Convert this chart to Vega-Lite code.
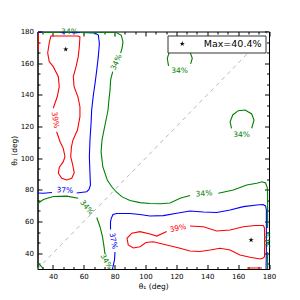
{
  "$schema": "https://vega.github.io/schema/vega-lite/v6.json",
  "width": 231.5,
  "height": 237.5,
  "autosize": {"type": "none"},
  "padding": {"left": 37.5, "top": 31.5, "right": 31, "bottom": 31},
  "config": {
    "view": {"stroke": "black", "strokeWidth": 1},
    "font": "DejaVu Sans",
    "axis": {"grid": false, "labelFont": "DejaVu Sans", "titleFont": "DejaVu Sans", "labelColor": "black", "titleColor": "black", "tickColor": "black", "domainColor": "black", "titleFontWeight": "normal", "labelFlush": false, "labelOverlap": false}
  },
  "datasets": {
    "diag": [{"t1": 30, "t2": 30}, {"t1": 180, "t2": 180}],
    "stars": [{"t1": 48.3, "t2": 168.8, "name": "Max=40.4%"}, {"t1": 168.4, "t2": 48.3, "name": "Max=40.4%"}],
    "labels": [
      {"text": "39%", "level": "39%", "t1": 41.3, "t2": 124.1, "angle": 82},
      {"text": "34%", "level": "34%", "t1": 81.3, "t2": 160.5, "angle": -66},
      {"text": "34%", "level": "34%", "t1": 50.7, "t2": 179.4, "angle": 0},
      {"text": "37%", "level": "37%", "t1": 47.8, "t2": 79.5, "angle": 2},
      {"text": "34%", "level": "34%", "t1": 61.8, "t2": 68.8, "angle": 50},
      {"text": "37%", "level": "37%", "t1": 78.9, "t2": 47.7, "angle": 79},
      {"text": "34%", "level": "34%", "t1": 74.4, "t2": 34.6, "angle": 60},
      {"text": "34%", "level": "34%", "t1": 137.9, "t2": 77.4, "angle": -4},
      {"text": "39%", "level": "39%", "t1": 121.1, "t2": 55.6, "angle": -13},
      {"text": "34%", "level": "34%", "t1": 122, "t2": 154.8, "angle": 0},
      {"text": "34%", "level": "34%", "t1": 162.2, "t2": 114.6, "angle": 0},
      {"text": "34%", "level": "34%", "t1": 179.1, "t2": 48.3, "angle": -90}
    ],
    "lines": [
      {"path": "r1", "level": "39%", "i": 1, "t1": 42.4, "t2": 116.7},
      {"path": "r1", "level": "39%", "i": 2, "t1": 44.6, "t2": 110.4},
      {"path": "r1", "level": "39%", "i": 3, "t1": 46.7, "t2": 106.2},
      {"path": "r1", "level": "39%", "i": 4, "t1": 47.8, "t2": 100.9},
      {"path": "r1", "level": "39%", "i": 5, "t1": 46.7, "t2": 97.8},
      {"path": "r1", "level": "39%", "i": 6, "t1": 44.1, "t2": 94.2},
      {"path": "r1", "level": "39%", "i": 7, "t1": 43.5, "t2": 90.5},
      {"path": "r1", "level": "39%", "i": 8, "t1": 45.7, "t2": 87.3},
      {"path": "r1", "level": "39%", "i": 9, "t1": 48.9, "t2": 86.2},
      {"path": "r1", "level": "39%", "i": 10, "t1": 52.2, "t2": 87.3},
      {"path": "r1", "level": "39%", "i": 11, "t1": 53.8, "t2": 90.8},
      {"path": "r1", "level": "39%", "i": 12, "t1": 52.8, "t2": 95.7},
      {"path": "r1", "level": "39%", "i": 13, "t1": 51.5, "t2": 100.9},
      {"path": "r1", "level": "39%", "i": 14, "t1": 52, "t2": 107.1},
      {"path": "r1", "level": "39%", "i": 15, "t1": 53, "t2": 111.5},
      {"path": "r1", "level": "39%", "i": 16, "t1": 55.9, "t2": 117.8},
      {"path": "r1", "level": "39%", "i": 17, "t1": 57.5, "t2": 126.2},
      {"path": "r1", "level": "39%", "i": 18, "t1": 57.5, "t2": 132.5},
      {"path": "r1", "level": "39%", "i": 19, "t1": 56.2, "t2": 138.7},
      {"path": "r1", "level": "39%", "i": 20, "t1": 53.7, "t2": 145.2},
      {"path": "r1", "level": "39%", "i": 21, "t1": 53.2, "t2": 151.5},
      {"path": "r1", "level": "39%", "i": 22, "t1": 55, "t2": 157.8},
      {"path": "r1", "level": "39%", "i": 23, "t1": 56.4, "t2": 164.1},
      {"path": "r1", "level": "39%", "i": 24, "t1": 57.1, "t2": 170.4},
      {"path": "r1", "level": "39%", "i": 25, "t1": 57.5, "t2": 176.6},
      {"path": "r1", "level": "39%", "i": 26, "t1": 56.2, "t2": 177.2},
      {"path": "r1", "level": "39%", "i": 27, "t1": 47.8, "t2": 177.2},
      {"path": "r1", "level": "39%", "i": 28, "t1": 38.7, "t2": 177.2},
      {"path": "r1", "level": "39%", "i": 29, "t1": 37.6, "t2": 172.8},
      {"path": "r1", "level": "39%", "i": 30, "t1": 36.6, "t2": 166.5},
      {"path": "r1", "level": "39%", "i": 31, "t1": 37.6, "t2": 161},
      {"path": "r1", "level": "39%", "i": 32, "t1": 40.2, "t2": 157.8},
      {"path": "r1", "level": "39%", "i": 33, "t1": 43.5, "t2": 151.5},
      {"path": "r1", "level": "39%", "i": 34, "t1": 44.1, "t2": 145.2},
      {"path": "r1", "level": "39%", "i": 35, "t1": 42.8, "t2": 138.8},
      {"path": "r1", "level": "39%", "i": 36, "t1": 41.3, "t2": 134.7},
      {"path": "r1", "level": "39%", "i": 37, "t1": 40.2, "t2": 131.5},

      {"path": "r2", "level": "39%", "i": 1, "t1": 128.8, "t2": 57.2},
      {"path": "r2", "level": "39%", "i": 2, "t1": 137.5, "t2": 56.7},
      {"path": "r2", "level": "39%", "i": 3, "t1": 146.1, "t2": 54},
      {"path": "r2", "level": "39%", "i": 4, "t1": 154.8, "t2": 54.6},
      {"path": "r2", "level": "39%", "i": 5, "t1": 163.4, "t2": 56.7},
      {"path": "r2", "level": "39%", "i": 6, "t1": 171, "t2": 57.5},
      {"path": "r2", "level": "39%", "i": 7, "t1": 176.3, "t2": 57.5},
      {"path": "r2", "level": "39%", "i": 8, "t1": 177.1, "t2": 55.9},
      {"path": "r2", "level": "39%", "i": 9, "t1": 177.1, "t2": 45.2},
      {"path": "r2", "level": "39%", "i": 10, "t1": 177.1, "t2": 37.8},
      {"path": "r2", "level": "39%", "i": 11, "t1": 176, "t2": 36.8},
      {"path": "r2", "level": "39%", "i": 12, "t1": 174.2, "t2": 36.3},
      {"path": "r2", "level": "39%", "i": 13, "t1": 167.7, "t2": 37.4},
      {"path": "r2", "level": "39%", "i": 14, "t1": 161.2, "t2": 38.8},
      {"path": "r2", "level": "39%", "i": 15, "t1": 154.8, "t2": 42},
      {"path": "r2", "level": "39%", "i": 16, "t1": 148.3, "t2": 43.1},
      {"path": "r2", "level": "39%", "i": 17, "t1": 141.8, "t2": 42},
      {"path": "r2", "level": "39%", "i": 18, "t1": 135.3, "t2": 41.1},
      {"path": "r2", "level": "39%", "i": 19, "t1": 128.8, "t2": 41.4},
      {"path": "r2", "level": "39%", "i": 20, "t1": 122.4, "t2": 43.1},
      {"path": "r2", "level": "39%", "i": 21, "t1": 113.7, "t2": 45.2},
      {"path": "r2", "level": "39%", "i": 22, "t1": 105, "t2": 47.2},
      {"path": "r2", "level": "39%", "i": 23, "t1": 100.3, "t2": 46.7},
      {"path": "r2", "level": "39%", "i": 24, "t1": 96.4, "t2": 44.1},
      {"path": "r2", "level": "39%", "i": 25, "t1": 92.1, "t2": 43.3},
      {"path": "r2", "level": "39%", "i": 26, "t1": 88.8, "t2": 45.2},
      {"path": "r2", "level": "39%", "i": 27, "t1": 88, "t2": 49.4},
      {"path": "r2", "level": "39%", "i": 28, "t1": 91.1, "t2": 52.6},
      {"path": "r2", "level": "39%", "i": 29, "t1": 96.4, "t2": 53.6},
      {"path": "r2", "level": "39%", "i": 30, "t1": 102.9, "t2": 52.1},
      {"path": "r2", "level": "39%", "i": 31, "t1": 107.3, "t2": 50.8},
      {"path": "r2", "level": "39%", "i": 32, "t1": 113.7, "t2": 53.7},

      {"path": "r3", "level": "39%", "i": 1, "t1": 30.6, "t2": 179.1},
      {"path": "r3", "level": "39%", "i": 2, "t1": 30.6, "t2": 168.3},
      {"path": "r4", "level": "39%", "i": 1, "t1": 165.8, "t2": 30.6},
      {"path": "r4", "level": "39%", "i": 2, "t1": 175.5, "t2": 30.6},

      {"path": "b1a", "level": "37%", "i": 1, "t1": 30.1, "t2": 179.5},
      {"path": "b1a", "level": "37%", "i": 2, "t1": 44.6, "t2": 179.5},
      {"path": "b1a", "level": "37%", "i": 3, "t1": 57.5, "t2": 179.4},
      {"path": "b1a", "level": "37%", "i": 4, "t1": 67.3, "t2": 179.1},
      {"path": "b1a", "level": "37%", "i": 5, "t1": 69.4, "t2": 177.8},
      {"path": "b1a", "level": "37%", "i": 6, "t1": 70.1, "t2": 172.6},
      {"path": "b1a", "level": "37%", "i": 7, "t1": 69.4, "t2": 164.1},
      {"path": "b1a", "level": "37%", "i": 8, "t1": 68.4, "t2": 155.7},
      {"path": "b1a", "level": "37%", "i": 9, "t1": 67.3, "t2": 147.3},
      {"path": "b1a", "level": "37%", "i": 10, "t1": 66.2, "t2": 139.9},
      {"path": "b1a", "level": "37%", "i": 11, "t1": 65.1, "t2": 130.4},
      {"path": "b1a", "level": "37%", "i": 12, "t1": 64.7, "t2": 122},
      {"path": "b1a", "level": "37%", "i": 13, "t1": 64, "t2": 111.5},
      {"path": "b1a", "level": "37%", "i": 14, "t1": 63.6, "t2": 100.9},
      {"path": "b1a", "level": "37%", "i": 15, "t1": 64, "t2": 90.5},
      {"path": "b1a", "level": "37%", "i": 16, "t1": 64.3, "t2": 83.1},
      {"path": "b1a", "level": "37%", "i": 17, "t1": 63.4, "t2": 80.2},
      {"path": "b1a", "level": "37%", "i": 18, "t1": 61.9, "t2": 78.8},
      {"path": "b1a", "level": "37%", "i": 19, "t1": 55.4, "t2": 78},
      {"path": "b1b", "level": "37%", "i": 1, "t1": 39.4, "t2": 78.3},
      {"path": "b1b", "level": "37%", "i": 2, "t1": 33.8, "t2": 77.8},
      {"path": "b1b", "level": "37%", "i": 3, "t1": 30, "t2": 78},

      {"path": "b2a", "level": "37%", "i": 1, "t1": 78.6, "t2": 30},
      {"path": "b2a", "level": "37%", "i": 2, "t1": 79.9, "t2": 35.7},
      {"path": "b2a", "level": "37%", "i": 3, "t1": 80.2, "t2": 40.7},
      {"path": "b2b", "level": "37%", "i": 1, "t1": 77.3, "t2": 55},
      {"path": "b2b", "level": "37%", "i": 2, "t1": 77.3, "t2": 59.7},
      {"path": "b2b", "level": "37%", "i": 3, "t1": 77.8, "t2": 62},
      {"path": "b2b", "level": "37%", "i": 4, "t1": 78.9, "t2": 64.4},
      {"path": "b2b", "level": "37%", "i": 5, "t1": 81.3, "t2": 65.1},
      {"path": "b2b", "level": "37%", "i": 6, "t1": 85.6, "t2": 65.1},
      {"path": "b2b", "level": "37%", "i": 7, "t1": 89.9, "t2": 65.1},
      {"path": "b2b", "level": "37%", "i": 8, "t1": 96.4, "t2": 64.4},
      {"path": "b2b", "level": "37%", "i": 9, "t1": 102.9, "t2": 63.5},
      {"path": "b2b", "level": "37%", "i": 10, "t1": 111.5, "t2": 63.7},
      {"path": "b2b", "level": "37%", "i": 11, "t1": 120.2, "t2": 65.2},
      {"path": "b2b", "level": "37%", "i": 12, "t1": 128.8, "t2": 66.6},
      {"path": "b2b", "level": "37%", "i": 13, "t1": 137.5, "t2": 66},
      {"path": "b2b", "level": "37%", "i": 14, "t1": 146.1, "t2": 65.7},
      {"path": "b2b", "level": "37%", "i": 15, "t1": 154.8, "t2": 67.3},
      {"path": "b2b", "level": "37%", "i": 16, "t1": 163.4, "t2": 69.4},
      {"path": "b2b", "level": "37%", "i": 17, "t1": 172.1, "t2": 70.4},
      {"path": "b2b", "level": "37%", "i": 18, "t1": 176.1, "t2": 70.7},
      {"path": "b2b", "level": "37%", "i": 19, "t1": 177.8, "t2": 69.8},
      {"path": "b2b", "level": "37%", "i": 20, "t1": 178.3, "t2": 67.3},
      {"path": "b2b", "level": "37%", "i": 21, "t1": 178.3, "t2": 54.6},
      {"path": "b2b", "level": "37%", "i": 22, "t1": 178.3, "t2": 42},
      {"path": "b2b", "level": "37%", "i": 23, "t1": 178.1, "t2": 30},

      {"path": "g1a", "level": "34%", "i": 1, "t1": 32.9, "t2": 179.4},
      {"path": "g1a", "level": "34%", "i": 2, "t1": 44.6, "t2": 179.4},
      {"path": "g1b", "level": "34%", "i": 1, "t1": 57.5, "t2": 179.4},
      {"path": "g1b", "level": "34%", "i": 2, "t1": 70.5, "t2": 179.4},
      {"path": "g1b", "level": "34%", "i": 3, "t1": 81.1, "t2": 179.4},
      {"path": "g1b", "level": "34%", "i": 4, "t1": 84.3, "t2": 177.6},
      {"path": "g1b", "level": "34%", "i": 5, "t1": 85.4, "t2": 173.4},
      {"path": "g1b", "level": "34%", "i": 6, "t1": 84.8, "t2": 169.6},
      {"path": "g1b", "level": "34%", "i": 7, "t1": 83.9, "t2": 166.3},
      {"path": "g1c", "level": "34%", "i": 1, "t1": 78.7, "t2": 154.6},
      {"path": "g1c", "level": "34%", "i": 2, "t1": 77.4, "t2": 149.4},
      {"path": "g1c", "level": "34%", "i": 3, "t1": 77, "t2": 143.1},
      {"path": "g1c", "level": "34%", "i": 4, "t1": 76.3, "t2": 136.8},
      {"path": "g1c", "level": "34%", "i": 5, "t1": 75.7, "t2": 130.4},
      {"path": "g1c", "level": "34%", "i": 6, "t1": 74.4, "t2": 124.1},
      {"path": "g1c", "level": "34%", "i": 7, "t1": 73.1, "t2": 117.8},
      {"path": "g1c", "level": "34%", "i": 8, "t1": 71.8, "t2": 111.5},
      {"path": "g1c", "level": "34%", "i": 9, "t1": 71.2, "t2": 104.1},
      {"path": "g1c", "level": "34%", "i": 10, "t1": 72.3, "t2": 94.6},
      {"path": "g1c", "level": "34%", "i": 11, "t1": 75.2, "t2": 86.2},
      {"path": "g1c", "level": "34%", "i": 12, "t1": 78, "t2": 82.1},
      {"path": "g1c", "level": "34%", "i": 13, "t1": 80.9, "t2": 78.8},
      {"path": "g1c", "level": "34%", "i": 14, "t1": 84.6, "t2": 75.7},
      {"path": "g1c", "level": "34%", "i": 15, "t1": 89.9, "t2": 73.3},
      {"path": "g1c", "level": "34%", "i": 16, "t1": 96.4, "t2": 71.9},
      {"path": "g1c", "level": "34%", "i": 17, "t1": 102.9, "t2": 71.4},
      {"path": "g1c", "level": "34%", "i": 18, "t1": 109.4, "t2": 71.2},
      {"path": "g1c", "level": "34%", "i": 19, "t1": 115.9, "t2": 71.7},
      {"path": "g1c", "level": "34%", "i": 20, "t1": 122.4, "t2": 74.7},
      {"path": "g1c", "level": "34%", "i": 21, "t1": 128.8, "t2": 76.4},
      {"path": "g1d", "level": "34%", "i": 1, "t1": 147.2, "t2": 77.8},
      {"path": "g1d", "level": "34%", "i": 2, "t1": 156.9, "t2": 79.9},
      {"path": "g1d", "level": "34%", "i": 3, "t1": 165.6, "t2": 83.1},
      {"path": "g1d", "level": "34%", "i": 4, "t1": 172.1, "t2": 84.2},
      {"path": "g1d", "level": "34%", "i": 5, "t1": 175.5, "t2": 85.1},
      {"path": "g1d", "level": "34%", "i": 6, "t1": 177.8, "t2": 84.3},
      {"path": "g1d", "level": "34%", "i": 7, "t1": 178.9, "t2": 81.2},
      {"path": "g1d", "level": "34%", "i": 8, "t1": 179.1, "t2": 76.7},
      {"path": "g1d", "level": "34%", "i": 9, "t1": 179.1, "t2": 55.9},
      {"path": "g1e", "level": "34%", "i": 1, "t1": 179.1, "t2": 40.7},
      {"path": "g1e", "level": "34%", "i": 2, "t1": 179.1, "t2": 30},

      {"path": "g2a", "level": "34%", "i": 1, "t1": 30, "t2": 71.1},
      {"path": "g2a", "level": "34%", "i": 2, "t1": 33.8, "t2": 73.9},
      {"path": "g2a", "level": "34%", "i": 3, "t1": 40.2, "t2": 75.8},
      {"path": "g2a", "level": "34%", "i": 4, "t1": 48.9, "t2": 76},
      {"path": "g2a", "level": "34%", "i": 5, "t1": 56.4, "t2": 74.7},
      {"path": "g2b", "level": "34%", "i": 1, "t1": 68.4, "t2": 62.5},
      {"path": "g2b", "level": "34%", "i": 2, "t1": 70.5, "t2": 56.7},
      {"path": "g2b", "level": "34%", "i": 3, "t1": 72.1, "t2": 50.4},
      {"path": "g2b", "level": "34%", "i": 4, "t1": 73.1, "t2": 44.1},
      {"path": "g2b", "level": "34%", "i": 5, "t1": 73.7, "t2": 39.5},

      {"path": "g3", "level": "34%", "i": 1, "t1": 30, "t2": 33.5},
      {"path": "g3", "level": "34%", "i": 2, "t1": 31.6, "t2": 32.5},
      {"path": "g3", "level": "34%", "i": 3, "t1": 32.9, "t2": 31.3},
      {"path": "g3", "level": "34%", "i": 4, "t1": 33.4, "t2": 30},

      {"path": "L1", "level": "34%", "i": 1, "t1": 114.9, "t2": 158.2},
      {"path": "L1", "level": "34%", "i": 2, "t1": 114.1, "t2": 163.1},
      {"path": "L1", "level": "34%", "i": 3, "t1": 115.2, "t2": 166.4},
      {"path": "L1", "level": "34%", "i": 4, "t1": 117.8, "t2": 169.3},
      {"path": "L1", "level": "34%", "i": 5, "t1": 122, "t2": 170.2},
      {"path": "L1", "level": "34%", "i": 6, "t1": 126.2, "t2": 169.3},
      {"path": "L1", "level": "34%", "i": 7, "t1": 128.8, "t2": 167.1},
      {"path": "L1", "level": "34%", "i": 8, "t1": 130.3, "t2": 163.1},
      {"path": "L1", "level": "34%", "i": 9, "t1": 129.2, "t2": 159.5},

      {"path": "L2", "level": "34%", "i": 1, "t1": 155.7, "t2": 118.8},
      {"path": "L2", "level": "34%", "i": 2, "t1": 154.8, "t2": 123},
      {"path": "L2", "level": "34%", "i": 3, "t1": 156.5, "t2": 127.3},
      {"path": "L2", "level": "34%", "i": 4, "t1": 160.1, "t2": 130},
      {"path": "L2", "level": "34%", "i": 5, "t1": 164.5, "t2": 130.4},
      {"path": "L2", "level": "34%", "i": 6, "t1": 168.8, "t2": 127.9},
      {"path": "L2", "level": "34%", "i": 7, "t1": 170.3, "t2": 124.1},
      {"path": "L2", "level": "34%", "i": 8, "t1": 168.8, "t2": 118.9}
    ]
  },
  "resolve": {"axis": {"x": "independent", "y": "independent"}},
  "layer": [
    {
      "data": {"name": "diag"},
      "mark": {"type": "line", "color": "#b8b8b8", "strokeWidth": 1, "strokeDash": [4, 4]},
      "encoding": {
        "x": {"field": "t1", "type": "quantitative", "scale": {"domain": [30, 180], "nice": false, "zero": false}, "axis": null},
        "y": {"field": "t2", "type": "quantitative", "scale": {"domain": [30, 180], "nice": false, "zero": false}, "axis": null}
      }
    },
    {
      "data": {"name": "lines"},
      "mark": {"type": "line", "strokeWidth": 1.1, "clip": true},
      "encoding": {
        "x": {"field": "t1", "type": "quantitative", "scale": {"domain": [30, 180], "nice": false, "zero": false},
          "axis": {"orient": "bottom", "title": "θ₁ (deg)", "titleFontSize": 7.5, "titlePadding": 1, "labelFontSize": 7, "labelPadding": 8,
            "values": [33.333, 40, 46.667, 53.333, 60, 66.667, 73.333, 80, 86.667, 93.333, 100, 106.667, 113.333, 120, 126.667, 133.333, 140, 146.667, 153.333, 160, 166.667, 173.333, 180],
            "labelExpr": "datum.value % 20 == 0 ? datum.label : ''",
            "tickSize": {"condition": {"test": "datum.value % 20 == 0", "value": -4.5}, "value": -2.5}}},
        "y": {"field": "t2", "type": "quantitative", "scale": {"domain": [30, 180], "nice": false, "zero": false},
          "axis": {"orient": "left", "title": "θ₂ (deg)", "titleFontSize": 7.5, "titlePadding": 2, "labelFontSize": 7, "labelPadding": 8.5,
            "values": [33.333, 40, 46.667, 53.333, 60, 66.667, 73.333, 80, 86.667, 93.333, 100, 106.667, 113.333, 120, 126.667, 133.333, 140, 146.667, 153.333, 160, 166.667, 173.333, 180],
            "labelExpr": "datum.value % 20 == 0 ? datum.label : ''",
            "tickSize": {"condition": {"test": "datum.value % 20 == 0", "value": -4.5}, "value": -2.5}}},
        "detail": {"field": "path", "type": "nominal"},
        "order": {"field": "i", "type": "quantitative"},
        "color": {"field": "level", "type": "nominal", "scale": {"domain": ["34%", "37%", "39%"], "range": ["#008000", "#0000ff", "#ff0000"]}, "legend": null}
      }
    },
    {
      "data": {"name": "labels"},
      "mark": {"type": "text", "fontSize": 7.5, "font": "DejaVu Sans", "align": "center", "baseline": "middle"},
      "encoding": {
        "x": {"field": "t1", "type": "quantitative", "scale": {"domain": [30, 180], "nice": false, "zero": false}, "axis": null},
        "y": {"field": "t2", "type": "quantitative", "scale": {"domain": [30, 180], "nice": false, "zero": false}, "axis": null},
        "text": {"field": "text", "type": "nominal"},
        "angle": {"field": "angle", "type": "quantitative", "scale": null},
        "color": {"field": "level", "type": "nominal", "scale": {"domain": ["34%", "37%", "39%"], "range": ["#008000", "#0000ff", "#ff0000"]}, "legend": null}
      }
    },
    {
      "data": {"name": "stars"},
      "mark": {"type": "point", "filled": true, "color": "black", "opacity": 1, "size": 30, "strokeWidth": 0},
      "encoding": {
        "x": {"field": "t1", "type": "quantitative", "scale": {"domain": [30, 180], "nice": false, "zero": false},
          "axis": {"orient": "top", "title": null, "labels": false, "domain": false,
            "values": [33.333, 40, 46.667, 53.333, 60, 66.667, 73.333, 80, 86.667, 93.333, 100, 106.667, 113.333, 120, 126.667, 133.333, 140, 146.667, 153.333, 160, 166.667, 173.333, 180],
            "tickSize": {"condition": {"test": "datum.value % 20 == 0", "value": -4.5}, "value": -2.5}}},
        "y": {"field": "t2", "type": "quantitative", "scale": {"domain": [30, 180], "nice": false, "zero": false},
          "axis": {"orient": "right", "title": null, "labels": false, "domain": false,
            "values": [33.333, 40, 46.667, 53.333, 60, 66.667, 73.333, 80, 86.667, 93.333, 100, 106.667, 113.333, 120, 126.667, 133.333, 140, 146.667, 153.333, 160, 166.667, 173.333, 180],
            "tickSize": {"condition": {"test": "datum.value % 20 == 0", "value": -4.5}, "value": -2.5}}},
        "shape": {"field": "name", "type": "nominal",
          "scale": {"range": ["M0,-1L0.2245,-0.309L0.9511,-0.309L0.3633,0.118L0.5878,0.809L0,0.382L-0.5878,0.809L-0.3633,0.118L-0.9511,-0.309L-0.2245,-0.309Z"]},
          "legend": {"title": null, "orient": "top-right", "offset": 3.5, "fillColor": "white", "strokeColor": "#333333", "padding": 3.5,
            "labelFontSize": 9.5, "labelFont": "DejaVu Sans", "labelColor": "black", "symbolSize": 30, "symbolFillColor": "black", "symbolStrokeWidth": 0,
            "symbolOffset": 6.5, "labelOffset": 16.7, "cornerRadius": 0}}
      }
    }
  ]
}
